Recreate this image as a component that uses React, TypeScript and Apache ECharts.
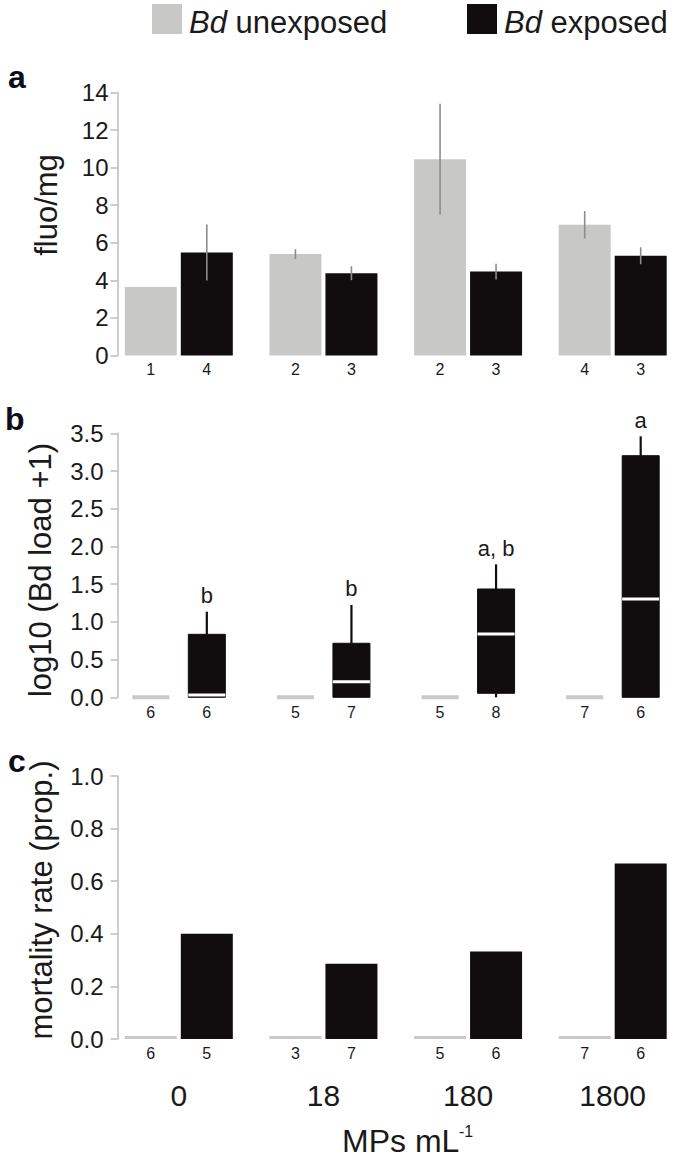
import React, { useEffect, useRef } from "react";
import * as echarts from "echarts";

// ---------- data ----------
const GROUPS = ["0", "18", "180", "1800"];
const SERIES_NAMES = ["Bd unexposed", "Bd exposed"];

// panel a: fluo/mg (mean, SE, n)
const FLUO_UNEXP = [3.64, 5.4, 10.45, 6.96];
const FLUO_UNEXP_SE = [0, 0.26, 2.95, 0.73];
const FLUO_EXP = [5.48, 4.38, 4.47, 5.31];
const FLUO_EXP_SE = [1.49, 0.37, 0.42, 0.45];
const FLUO_N_UNEXP = [1, 2, 2, 4];
const FLUO_N_EXP = [4, 3, 3, 3];
const FLUO_TICKS = [0, 14, 2];

// panel b: log10 (Bd load + 1) boxes [low whisker, q1, median, q3, high whisker]
const LOAD_UNEXP = [
  [0, 0, 0, 0, 0],
  [0, 0, 0, 0, 0],
  [0, 0, 0, 0, 0],
  [0, 0, 0, 0, 0],
];
const LOAD_EXP = [
  [0, 0, 0.03, 0.835, 1.135],
  [0, 0, 0.207, 0.716, 1.224],
  [0, 0.053, 0.839, 1.436, 1.763],
  [0, 0, 1.303, 3.203, 3.46],
];
const LOAD_LETTERS = ["b", "b", "a, b", "a"];
const LOAD_N_UNEXP = [6, 5, 5, 7];
const LOAD_N_EXP = [6, 7, 8, 6];
const LOAD_TICKS = [0, 3.5, 0.5];

// panel c: mortality rate
const MORT_UNEXP = [0, 0, 0, 0];
const MORT_EXP = [0.4, 0.286, 0.333, 0.667];
const MORT_N_UNEXP = [6, 3, 5, 7];
const MORT_N_EXP = [5, 7, 6, 6];
const MORT_TICKS = [0, 1, 0.2];

// ---------- styles ----------
const FONT = "'Liberation Sans', Arial, Helvetica, sans-serif";
const GREY = "#c8c8c6";
const BLACK = "#110d0e";
const AXIS_GREY = "#bdbdbd";
const TEXT = "#1a1a1a";
const BAR_W = 52;
const BAR_GAP = 4;
const HALF_STEP = (BAR_W + BAR_GAP) / 2;
const BOX_W = 37;
const GRID_LEFT = 106.5;
const GRID_W = 594;
const GRIDS = [
  { top: 92.5, height: 263 },
  { top: 433.3, height: 264 },
  { top: 776, height: 263 },
];

function App() {
  const ref = useRef<HTMLDivElement>(null);

  useEffect(() => {
    if (!ref.current) return;
    const chart = echarts.init(ref.current, undefined, { renderer: "svg" });

    const ticks = [FLUO_TICKS, LOAD_TICKS, MORT_TICKS];
    const labelMargins = [9, 14, 14];

    const xAxis = GRIDS.map((_, gi) => ({
      type: "category",
      gridIndex: gi,
      data: GROUPS,
      axisLine: { show: false },
      axisTick: { show: false },
      axisLabel:
        gi === 2
          ? { show: true, fontSize: 30, color: TEXT, margin: 56, verticalAlign: "middle", fontFamily: FONT }
          : { show: false },
    }));

    const yAxis = GRIDS.map((_, gi) => ({
      type: "value",
      gridIndex: gi,
      min: ticks[gi][0],
      max: ticks[gi][1],
      interval: ticks[gi][2],
      offset: -11,
      axisLine: { show: true, lineStyle: { color: AXIS_GREY, width: 1.5 } },
      axisTick: { show: true, length: 7, lineStyle: { color: AXIS_GREY, width: 1.5 } },
      splitLine: { show: false },
      axisLabel: {
        fontSize: 24,
        color: TEXT,
        margin: labelMargins[gi],
        fontFamily: FONT,
        formatter: (v: number) => (gi === 0 ? String(v) : v.toFixed(1)),
      },
    }));

    const nLabel = (arr: number[]) => ({
      show: true,
      position: "bottom",
      distance: 6,
      fontSize: 16,
      color: TEXT,
      fontFamily: FONT,
      formatter: (p: any) => String(arr[p.dataIndex]),
    });

    const errData = [
      ...FLUO_UNEXP.map((v, i) => [i, v, FLUO_UNEXP_SE[i], -1]),
      ...FLUO_EXP.map((v, i) => [i, v, FLUO_EXP_SE[i], 1]),
    ];

    const boxData = [
      ...LOAD_UNEXP.map((b, i) => [i, -1, ...b, LOAD_N_UNEXP[i]]),
      ...LOAD_EXP.map((b, i) => [i, 1, ...b, LOAD_N_EXP[i]]),
    ];

    const series: any[] = [
      // panel a
      {
        type: "bar",
        name: SERIES_NAMES[0],
        xAxisIndex: 0,
        yAxisIndex: 0,
        data: FLUO_UNEXP,
        barWidth: BAR_W,
        barGap: (BAR_GAP / BAR_W) * 100 + "%",
        itemStyle: { color: GREY },
        label: nLabel(FLUO_N_UNEXP),
      },
      {
        type: "bar",
        name: SERIES_NAMES[1],
        xAxisIndex: 0,
        yAxisIndex: 0,
        data: FLUO_EXP,
        barWidth: BAR_W,
        barGap: (BAR_GAP / BAR_W) * 100 + "%",
        itemStyle: { color: BLACK },
        label: nLabel(FLUO_N_EXP),
      },
      {
        type: "custom",
        xAxisIndex: 0,
        yAxisIndex: 0,
        data: errData,
        encode: { x: 0, y: 1 },
        z: 5,
        renderItem: (params: any, api: any) => {
          const i = api.value(0);
          const m = api.value(1);
          const se = api.value(2);
          const side = api.value(3);
          if (!se) return { type: "group", children: [] };
          const top = api.coord([i, m + se]);
          const bot = api.coord([i, m - se]);
          const x = top[0] + side * HALF_STEP;
          return {
            type: "line",
            shape: { x1: x, y1: top[1], x2: x, y2: bot[1] },
            style: { stroke: "#8c8c8c", lineWidth: 1.6 },
          };
        },
      },
      // panel b
      {
        type: "custom",
        xAxisIndex: 1,
        yAxisIndex: 1,
        data: boxData,
        encode: { x: 0, y: 5 },
        renderItem: (params: any, api: any) => {
          const i = api.value(0);
          const side = api.value(1);
          const lo = api.value(2);
          const q1 = api.value(3);
          const med = api.value(4);
          const q3 = api.value(5);
          const hi = api.value(6);
          const n = api.value(7);
          const cx = api.coord([i, 0])[0] + side * HALF_STEP;
          const y = (v: number) => api.coord([i, v])[1];
          const children: any[] = [];
          if (side < 0) {
            children.push({
              type: "rect",
              shape: { x: cx - BOX_W / 2, y: y(q3) - 2, width: BOX_W, height: y(q1) - y(q3) + 4 },
              style: { fill: GREY },
            });
          } else {
            children.push({
              type: "line",
              shape: { x1: cx, y1: y(q3), x2: cx, y2: y(hi) },
              style: { stroke: BLACK, lineWidth: 2.2 },
            });
            if (lo < q1) {
              children.push({
                type: "line",
                shape: { x1: cx, y1: y(q1), x2: cx, y2: y(lo) },
                style: { stroke: BLACK, lineWidth: 2.2 },
              });
            }
            children.push({
              type: "rect",
              shape: { x: cx - BOX_W / 2, y: y(q3), width: BOX_W, height: y(q1) - y(q3) },
              style: { fill: BLACK, stroke: BLACK, lineWidth: 1 },
            });
            children.push({
              type: "rect",
              shape: { x: cx - BOX_W / 2, y: y(med) - 1.5, width: BOX_W, height: 3 },
              style: { fill: "#ffffff" },
            });
            const letter = LOAD_LETTERS[params.dataIndex - LOAD_UNEXP.length];
            children.push({
              type: "text",
              x: cx,
              y: y(hi) - 16,
              style: {
                text: letter,
                fontSize: 22,
                fontFamily: FONT,
                fill: TEXT,
                align: "center",
                verticalAlign: "middle",
              },
            });
          }
          children.push({
            type: "text",
            x: cx,
            y: y(0) + 15,
            style: {
              text: String(n),
              fontSize: 16,
              fontFamily: FONT,
              fill: TEXT,
              align: "center",
              verticalAlign: "middle",
            },
          });
          return { type: "group", children };
        },
      },
      // panel c
      {
        type: "bar",
        name: SERIES_NAMES[0],
        xAxisIndex: 2,
        yAxisIndex: 2,
        data: MORT_UNEXP,
        barWidth: BAR_W,
        barGap: (BAR_GAP / BAR_W) * 100 + "%",
        barMinHeight: 3,
        itemStyle: { color: GREY },
        label: nLabel(MORT_N_UNEXP),
      },
      {
        type: "bar",
        name: SERIES_NAMES[1],
        xAxisIndex: 2,
        yAxisIndex: 2,
        data: MORT_EXP,
        barWidth: BAR_W,
        barGap: (BAR_GAP / BAR_W) * 100 + "%",
        itemStyle: { color: BLACK },
        label: nLabel(MORT_N_EXP),
      },
    ];

    const titleText = (text: string, x: number, y: number) => ({
      type: "text",
      x,
      y,
      rotation: Math.PI / 2,
      style: {
        text,
        fontSize: 31,
        fontFamily: FONT,
        fill: TEXT,
        align: "center",
        verticalAlign: "middle",
      },
    });

    const panelLetter = (text: string, x: number, y: number) => ({
      type: "text",
      x,
      y,
      style: {
        text,
        fontSize: 32,
        fontWeight: "bold",
        fontFamily: FONT,
        fill: "#0d0d1a",
        align: "left",
        verticalAlign: "middle",
      },
    });

    const legendItem = (x: number, color: string, rest: string) => [
      { type: "rect", shape: { x, y: 4, width: 30, height: 30 }, style: { fill: color } },
      {
        type: "text",
        x: x + 37,
        y: 22,
        style: {
          text: "{i|Bd} " + rest,
          fontSize: 31,
          fontFamily: FONT,
          fill: TEXT,
          verticalAlign: "middle",
          rich: { i: { fontStyle: "italic", fontSize: 31, fontFamily: FONT, fill: TEXT } },
        },
      },
    ];

    chart.setOption({
      animation: false,
      textStyle: { fontFamily: FONT },
      grid: GRIDS.map((g) => ({ left: GRID_LEFT, width: GRID_W, top: g.top, height: g.height })),
      xAxis,
      yAxis,
      series,
      graphic: [
        ...legendItem(152, GREY, SERIES_NAMES[0].replace("Bd ", "")),
        ...legendItem(467, BLACK, SERIES_NAMES[1].replace("Bd ", "")),
        panelLetter("a", 8, 77),
        panelLetter("b", 5, 419),
        panelLetter("c", 8, 761),
        titleText("fluo/mg", 46, 205),
        titleText("log10 (Bd load +1)", 40, 570),
        titleText("mortality rate (prop.)", 41, 900),
        {
          type: "text",
          x: 342,
          y: 1141,
          style: { text: "MPs mL", fontSize: 32, fontFamily: FONT, fill: TEXT, align: "left", verticalAlign: "middle" },
        },
        {
          type: "text",
          x: 459,
          y: 1131,
          style: { text: "-1", fontSize: 16, fontFamily: FONT, fill: TEXT, align: "left", verticalAlign: "middle" },
        },
      ],
    });

    return () => chart.dispose();
  }, []);

  return (
    <div
      ref={ref}
      style={{ position: "absolute", left: 0, top: 0, width: 685, height: 1160, background: "#fff" }}
    />
  );
}

export default App;
